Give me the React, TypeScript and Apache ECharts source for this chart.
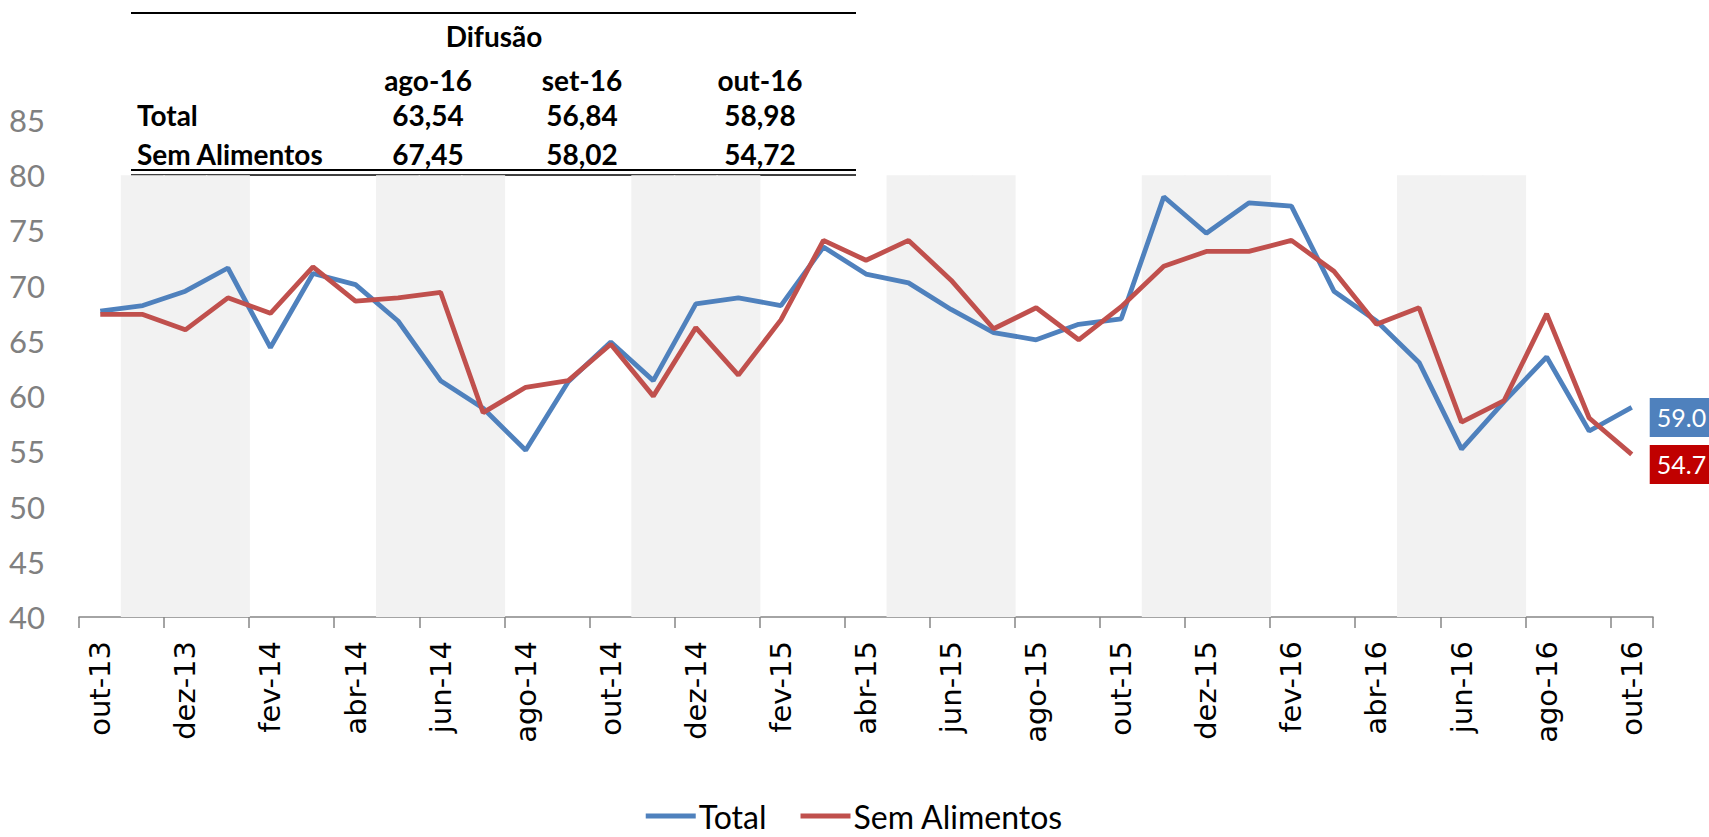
import React, { useEffect, useRef } from "react";
import * as echarts from "echarts";

const months = [
  "out-13", "nov-13", "dez-13", "jan-14", "fev-14", "mar-14", "abr-14", "mai-14", "jun-14",
  "jul-14", "ago-14", "set-14", "out-14", "nov-14", "dez-14", "jan-15", "fev-15", "mar-15",
  "abr-15", "mai-15", "jun-15", "jul-15", "ago-15", "set-15", "out-15", "nov-15", "dez-15",
  "jan-16", "fev-16", "mar-16", "abr-16", "mai-16", "jun-16", "jul-16", "ago-16", "set-16", "out-16",
];

const total = [
  67.7, 68.2, 69.5, 71.6, 64.4, 71.1, 70.1, 66.8, 61.4, 58.9, 55.1, 61.3, 64.9,
  61.4, 68.35, 68.9, 68.2, 73.5, 71.05, 70.25, 67.85, 65.75, 65.1, 66.5, 67.0,
  78.05, 74.75, 77.5, 77.2, 69.5, 66.8, 63.05, 55.2, 59.5, 63.54, 56.84, 58.98,
];

const semAlimentos = [
  67.4, 67.4, 66.0, 68.9, 67.5, 71.7, 68.6, 68.9, 69.4, 58.5, 60.8, 61.4, 64.7,
  60.0, 66.2, 61.9, 66.9, 74.1, 72.3, 74.1, 70.5, 66.1, 68.0, 65.1, 68.1,
  71.75, 73.1, 73.1, 74.1, 71.3, 66.5, 68.0, 57.65, 59.6, 67.45, 58.02, 54.72,
];

// shaded quarter bands (top of band at 80)
const shadedMonths = [
  "nov-13", "dez-13", "jan-14", "mai-14", "jun-14", "jul-14", "nov-14", "dez-14", "jan-15",
  "mai-15", "jun-15", "jul-15", "nov-15", "dez-15", "jan-16", "mai-16", "jun-16", "jul-16",
];
const bandTop = 80;

const yTicks = { min: 40, max: 85, interval: 5 };

const tableTitle = "Difusão";
const tableCols = ["ago-16", "set-16", "out-16"];
const tableRows = ["Total", "Sem Alimentos"];
const tableTotal = ["63,54", "56,84", "58,98"];
const tableSem = ["67,45", "58,02", "54,72"];

const NARROW = "Lato, 'Noto Sans', sans-serif";
const BLUE = "#4F81BD";
const RED = "#C0504D";

export default function App() {
  const ref = useRef<HTMLDivElement>(null);

  useEffect(() => {
    if (!ref.current) return;
    const chart = echarts.init(ref.current, undefined, { renderer: "svg" });

    const bandData = months.map((m) => (shadedMonths.includes(m) ? bandTop : "-"));

    const colX = [428, 582, 760];
    const tableFont = { fontFamily: NARROW, fontWeight: "bold" as const, fontSize: 28, fill: "#000" };
    const graphics: any[] = [
      { type: "line", shape: { x1: 131, y1: 13, x2: 856, y2: 13 }, style: { stroke: "#000", lineWidth: 2 } },
      { type: "line", shape: { x1: 131, y1: 170, x2: 856, y2: 170 }, style: { stroke: "#000", lineWidth: 2 } },
      { type: "line", shape: { x1: 131, y1: 175, x2: 856, y2: 175 }, style: { stroke: "#000", lineWidth: 1.5 } },
      { type: "text", x: 494, y: 36, style: { ...tableFont, text: tableTitle, align: "center", verticalAlign: "middle" } },
    ];
    tableCols.forEach((c, i) => {
      graphics.push({ type: "text", x: colX[i], y: 80, style: { ...tableFont, text: c, align: "center", verticalAlign: "middle" } });
      graphics.push({ type: "text", x: colX[i], y: 115, style: { ...tableFont, text: tableTotal[i], align: "center", verticalAlign: "middle" } });
      graphics.push({ type: "text", x: colX[i], y: 154, style: { ...tableFont, text: tableSem[i], align: "center", verticalAlign: "middle" } });
    });
    graphics.push({ type: "text", x: 137, y: 115, style: { ...tableFont, text: tableRows[0], align: "left", verticalAlign: "middle" } });
    graphics.push({ type: "text", x: 137, y: 154, style: { ...tableFont, text: tableRows[1], align: "left", verticalAlign: "middle" } });

    const endLabel = (bg: string) => ({
      show: true,
      formatter: (p: any) => Number(p.value).toFixed(1),
      color: "#fff",
      backgroundColor: bg,
      padding: [7, 4, 7, 7],
      fontSize: 25,
      fontFamily: NARROW,
      distance: 18,
      offset: [0, 10],
    });

    chart.setOption({
      animation: false,
      backgroundColor: "#fff",
      grid: { left: 79, right: 56, top: 120, bottom: 220, containLabel: false },
      legend: {
        data: ["Total", "Sem Alimentos"],
        top: 794,
        left: "center",
        icon: "rect",
        itemWidth: 50,
        itemHeight: 5,
        itemGap: 34,
        textStyle: { fontFamily: NARROW, fontSize: 32, lineHeight: 34, color: "#000", padding: [0, 0, 0, -2] },
      },
      xAxis: {
        type: "category",
        data: months,
        boundaryGap: true,
        axisLine: { lineStyle: { color: "#868686", width: 1.5 } },
        axisTick: { show: true, interval: 1, length: 11, lineStyle: { color: "#868686", width: 1.5 } },
        axisLabel: {
          interval: 1,
          rotate: 90,
          margin: 24,
          color: "#000",
          fontFamily: "'DejaVu Sans', sans-serif",
          fontSize: 29,
        },
        splitLine: { show: false },
      },
      yAxis: {
        type: "value",
        min: yTicks.min,
        max: yTicks.max,
        interval: yTicks.interval,
        axisLine: { show: false },
        axisTick: { show: false },
        splitLine: { show: false },
        axisLabel: { color: "#808080", fontFamily: NARROW, fontSize: 31, margin: 34 },
      },
      series: [
        {
          name: "faixa",
          type: "bar",
          data: bandData,
          barWidth: 44,
          barGap: "0%",
          itemStyle: { color: "#F2F2F2" },
          silent: true,
          z: 1,
        },
        {
          name: "Total",
          type: "line",
          data: total,
          symbol: "none",
          lineStyle: { color: BLUE, width: 4.8 },
          itemStyle: { color: BLUE },
          endLabel: endLabel(BLUE),
          z: 3,
        },
        {
          name: "Sem Alimentos",
          type: "line",
          data: semAlimentos,
          symbol: "none",
          lineStyle: { color: RED, width: 4.8 },
          itemStyle: { color: RED },
          endLabel: endLabel("#C00000"),
          z: 3,
        },
      ],
      graphic: graphics,
    });

    return () => chart.dispose();
  }, []);

  return (
    <div
      ref={ref}
      style={{ position: "fixed", left: 0, top: 0, width: "1709px", height: "837px", background: "#fff" }}
    />
  );
}
